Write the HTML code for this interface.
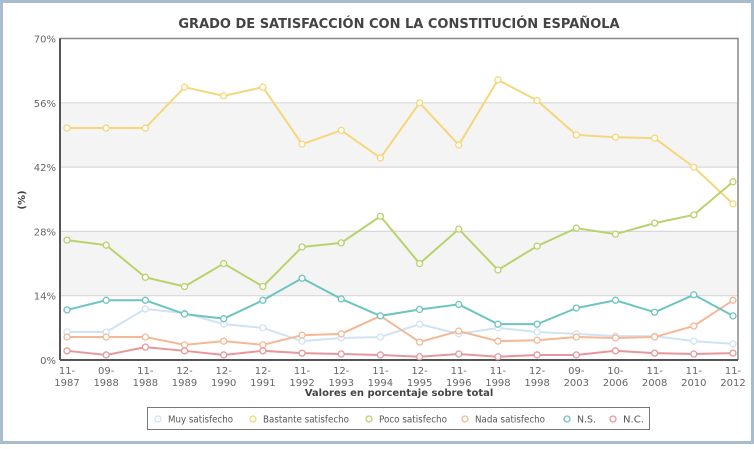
<!DOCTYPE html>
<html><head><meta charset="utf-8"><style>
body{margin:0;background:#fff;font-family:"DejaVu Sans","Liberation Sans",sans-serif;}
svg text{font-family:"DejaVu Sans","Liberation Sans",sans-serif;}
</style></head><body>
<svg id="chart" width="754" height="445" xmlns="http://www.w3.org/2000/svg">
<rect x="1.5" y="1.5" width="751" height="441" fill="#fff" stroke="#a9bccb" stroke-width="3"/>
<text x="399" y="28" text-anchor="middle" font-size="13" font-weight="bold" fill="#444">GRADO DE SATISFACCIÓN CON LA CONSTITUCIÓN ESPAÑOLA</text>
<g id="bands"></g>
<g id="axes"></g>
<g id="series"></g>
<text transform="translate(25,200) rotate(-90)" text-anchor="middle" font-size="10" font-weight="bold" fill="#444">(%)</text>
<text x="399" y="396" text-anchor="middle" font-size="10" font-weight="bold" fill="#444">Valores en porcentaje sobre total</text>
<rect x="147.5" y="407.5" width="502" height="22" fill="#fff" stroke="#777" stroke-width="1"/>
<g id="legend"></g>
</svg>
<script>
const categories=["11-|1987","09-|1988","11-|1988","12-|1989","12-|1990","12-|1991","11-|1992","12-|1993","11-|1994","12-|1995","11-|1996","11-|1998","12-|1998","09-|2003","10-|2006","11-|2008","11-|2010","11-|2012"];
const muy=[6.1,6.1,11.1,10.2,7.8,7,4.1,4.8,5,7.8,5.7,7,6.1,5.7,5.2,5.2,4.1,3.5];
const bastante=[50.5,50.5,50.5,59.4,57.5,59.4,47,50,44,56,46.8,61,56.5,49,48.5,48.3,42,34];
const poco=[26.1,25,18,16,21,16,24.6,25.5,31.3,21,28.5,19.6,24.8,28.7,27.4,29.8,31.6,38.8];
const nada=[5,5,5,3.3,4.1,3.3,5.4,5.7,9.6,3.9,6.3,4.1,4.3,5,4.8,5,7.4,13];
const ns=[10.9,13,13,10,9,13,17.8,13.3,9.6,11,12.1,7.8,7.8,11.3,13,10.4,14.2,9.6];
const nc=[2,1.1,2.8,2,1.1,2,1.5,1.3,1.1,0.7,1.3,0.7,1.1,1.1,2,1.5,1.3,1.5];
const yTicks=[0,14,28,42,56,70];
const seriesNames=["Muy satisfecho","Bastante satisfecho","Poco satisfecho","Nada satisfecho","N.S.","N.C."];
const seriesColors=["#cfe3f5","#f5d77a","#b8d36b","#f5b896","#6ec4c0","#e8979a"];
const seriesData=[muy,bastante,poco,nada,ns,nc];
const NS="http://www.w3.org/2000/svg";
const L=60,R=738,T=38.5,B=360;
const x=i=>67+i*(733-67)/(categories.length-1);
const y=v=>B-(v/70)*(B-T);
function mk(t,a,p){const e=document.createElementNS(NS,t);for(const k in a)e.setAttribute(k,a[k]);p.appendChild(e);return e;}
const bands=document.getElementById('bands');
for(let i=0;i<yTicks.length-1;i++){
 if(i%2===1){const r=mk('rect',{x:L,y:y(yTicks[i+1]),width:R-L,height:y(yTicks[i])-y(yTicks[i+1]),fill:'#f4f4f4'},bands);
 
 }
}
const axes=document.getElementById('axes');
yTicks.forEach(t=>{
 if(t>0&&t<70){const g=mk('line',{x1:L,x2:R,y1:y(t),y2:y(t),stroke:'#d8d8d8','stroke-width':1.2},axes);
 
 }
 const tx=mk('text',{x:L-4,y:y(t)+4,'text-anchor':'end','font-size':10,fill:'#666'},axes);tx.textContent=t+'%';
 
 
});
const fr=mk('path',{d:`M${L} ${B}V${T}H${R}V${B}`,fill:'none',stroke:'#888','stroke-width':1.5},axes);


const xa=mk('line',{x1:L,x2:R,y1:B,y2:B,stroke:'#555','stroke-width':2},axes);


const ya=mk('line',{x1:L,x2:L,y1:T,y2:B,stroke:'#555','stroke-width':2},axes);


categories.forEach((c,i)=>{
 const p=c.split('|');
 const t=mk('text',{x:x(i),y:374,'text-anchor':'middle','font-size':10,fill:'#666'},axes);
 
 
 const a=mk('tspan',{x:x(i)},t);a.textContent=p[0];
 const b=mk('tspan',{x:x(i),dy:12},t);b.textContent=p[1];
});
const sg=document.getElementById('series');
seriesData.forEach((d,s)=>{
 const g=mk('g',{},sg);
 
 
 const pl=mk('polyline',{points:d.map((v,i)=>x(i)+','+y(v)).join(' '),fill:'none',stroke:seriesColors[s],'stroke-width':2},g);
 
 
 d.forEach((v,i)=>{const c=mk('circle',{cx:x(i),cy:y(v),r:3,fill:'#fff',stroke:seriesColors[s],'stroke-width':1.3},g);
 
 });
});
const lg=document.getElementById('legend');
const lx=[158,253,369,465,567,613];
const lw=[65,86,68,70,19,21];
seriesNames.forEach((n,s)=>{
 const g=mk('g',{},lg);
 
 
 mk('circle',{cx:lx[s],cy:419,r:3,fill:'#fff',stroke:seriesColors[s],'stroke-width':1.3},g);
 const t=mk('text',{x:lx[s]+10,y:422.5,'font-size':10,fill:'#555',textLength:lw[s],lengthAdjust:'spacingAndGlyphs'},g);t.textContent=n;
});
</script>
</body></html>
